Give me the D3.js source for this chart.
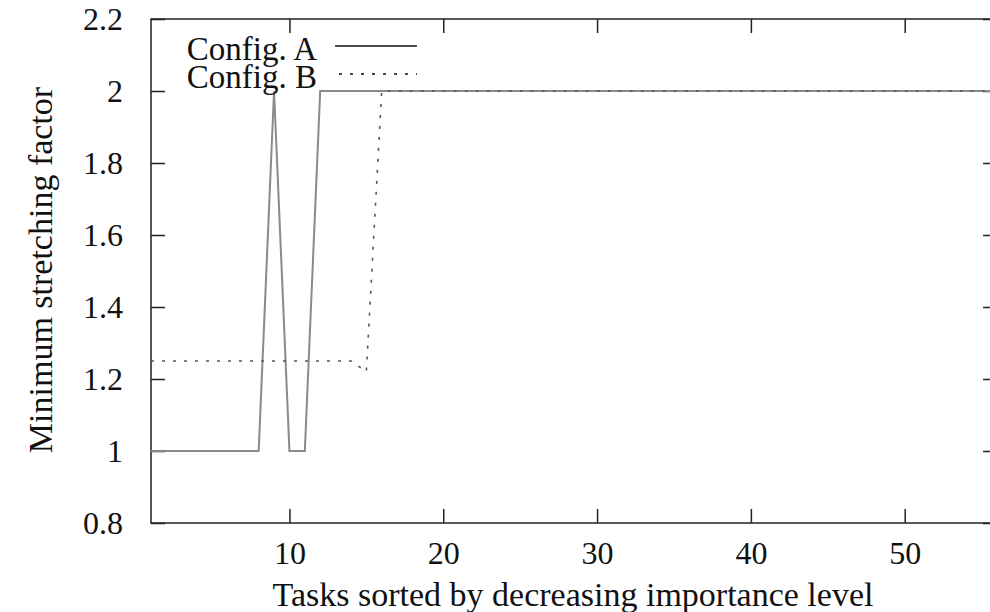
<!DOCTYPE html>
<html>
<head>
<meta charset="utf-8">
<script src="https://cdn.jsdelivr.net/npm/d3@7/dist/d3.min.js"></script>
<style>
  body { margin: 0; background: #fff; }
  svg { display: block; overflow: hidden; }
</style>
</head>
<body>
<div id="chart"></div>
<script>
// Data (task index -> minimum stretching factor)
var tasksA = [1, 8, 9, 10, 11, 12, 56];
var valuesA = [1, 1, 2, 1, 1, 2, 2];
var tasksB = [1, 14, 15, 16, 56];
var valuesB = [1.25, 1.25, 1.22, 2, 2];
var seriesNames = ["Config. A", "Config. B"];
var xTicks = [10, 20, 30, 40, 50];
var yTicks = [0.8, 1, 1.2, 1.4, 1.6, 1.8, 2, 2.2];

var W = 990, H = 612;
var serif = "'Liberation Serif', 'Times New Roman', Tinos, 'DejaVu Serif', serif";
// plot box (right edge runs past the picture, as in the original)
var box = {x0: 151, x1: 997, y0: 19, y1: 523};
var tick = 14;

var svg = d3.select("#chart").append("svg")
    .attr("width", W)
    .attr("height", H)
    .style("font-family", serif);

var xScale = d3.scaleLinear().domain([1, 56]).range([box.x0, box.x1]);
var yScale = d3.scaleLinear().domain([0.8, 2.2]).range([box.y1, box.y0]);

// frame
svg.append("rect")
    .attr("x", box.x0).attr("y", box.y0)
    .attr("width", box.x1 - box.x0).attr("height", box.y1 - box.y0)
    .attr("fill", "none").attr("stroke", "#222").attr("stroke-width", 1.5);

// axes: inner ticks on all four sides
var xAxisB = d3.axisBottom(xScale).tickValues(xTicks).tickSize(-tick).tickPadding(tick + 4).tickFormat(d3.format("d"));
var xAxisT = d3.axisTop(xScale).tickValues(xTicks).tickSize(-tick).tickFormat("");
var yAxisL = d3.axisLeft(yScale).tickValues(yTicks).tickSize(-tick).tickPadding(tick + 14).tickFormat(function(d){ return String(+d.toFixed(1)); });
var yAxisR = d3.axisRight(yScale).tickValues(yTicks).tickSize(-tick).tickFormat("");

function styleAxis(g) {
  g.attr("font-family", null).attr("font-size", null);
  g.select(".domain").remove();
  g.selectAll(".tick line").attr("stroke", "#222").attr("stroke-width", 1.5);
  g.selectAll(".tick text").style("font-family", serif).style("font-size", "32px").attr("fill", "#111");
}

svg.append("g").attr("transform", "translate(0," + box.y1 + ")").call(xAxisB).call(styleAxis);
svg.append("g").attr("transform", "translate(0," + box.y0 + ")").call(xAxisT).call(styleAxis);
svg.append("g").attr("transform", "translate(" + box.x0 + ",0)").call(yAxisL).call(styleAxis);
svg.append("g").attr("transform", "translate(" + box.x1 + ",0)").call(yAxisR).call(styleAxis);

// lines
var line = d3.line()
    .x(function(d){ return xScale(d[0]); })
    .y(function(d){ return yScale(d[1]); });

svg.append("path")
    .datum(d3.zip(tasksA, valuesA))
    .attr("d", line)
    .attr("fill", "none")
    .attr("stroke", "#8a8a8a")
    .attr("stroke-width", 2);

svg.append("path")
    .datum(d3.zip(tasksB, valuesB))
    .attr("d", line)
    .attr("fill", "none")
    .attr("stroke", "#555")
    .attr("stroke-width", 1.6)
    .attr("stroke-dasharray", "3,8");

// legend
var legend = svg.append("g").style("font-size", "33px").attr("fill", "#111");
legend.append("text").attr("x", 317).attr("y", 60).attr("text-anchor", "end").text(seriesNames[0]);
legend.append("text").attr("x", 317).attr("y", 88).attr("text-anchor", "end").text(seriesNames[1]);
legend.append("line").attr("x1", 335).attr("x2", 417).attr("y1", 46).attr("y2", 46)
    .attr("stroke", "#111").attr("stroke-width", 1.6);
legend.append("line").attr("x1", 339).attr("x2", 417).attr("y1", 74).attr("y2", 74)
    .attr("stroke", "#111").attr("stroke-width", 1.6).attr("stroke-dasharray", "3,8");

// axis titles
svg.append("text")
    .attr("x", 573).attr("y", 606)
    .attr("text-anchor", "middle")
    .style("font-size", "34px").attr("fill", "#111")
    .text("Tasks sorted by decreasing importance level");

svg.append("text")
    .attr("transform", "translate(52,270) rotate(-90)")
    .attr("text-anchor", "middle")
    .style("font-size", "34px").attr("fill", "#111")
    .text("Minimum stretching factor");
</script>
</body>
</html>
